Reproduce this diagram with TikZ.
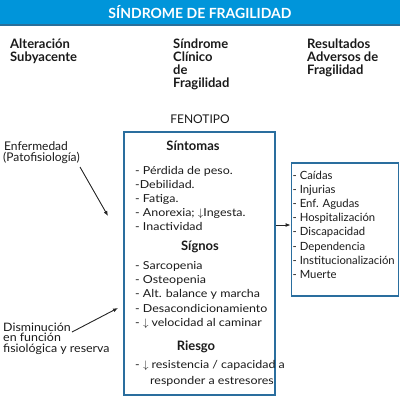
\documentclass[tikz,border=0pt]{standalone}
\usepackage{fontspec}
\setmainfont{Lato}
\newfontfamily\widef{Lato}[FakeStretch=1.13]
\newfontfamily\semiwidef{Lato}[FakeStretch=1.07]
\usetikzlibrary{arrows.meta}
\definecolor{banner}{HTML}{0095DA}
\definecolor{bannerdark}{HTML}{2A6F9A}
\definecolor{boxblue}{HTML}{2A6E9E}
\definecolor{txt}{HTML}{1A1A1A}
\begin{document}
\begin{tikzpicture}[x=1pt,y=-1pt,
  txtnode/.style={inner sep=0pt, text=txt, align=left},
  head/.style={txtnode, font=\fontsize{13}{13}\selectfont\bfseries, anchor=north west},
  body/.style={txtnode, font=\widef\fontsize{11}{14.1}\selectfont},
  sect/.style={txtnode, font=\fontsize{13}{14}\selectfont\bfseries},
  side/.style={txtnode, anchor=base west, font=\fontsize{12}{12}\selectfont},
  side2/.style={txtnode, anchor=base west, font=\semiwidef\fontsize{11.6}{11}\selectfont},
  frame/.style={draw=boxblue, line width=1.8pt, inner sep=0pt},
  arr/.style={-{Latex[length=5pt,width=4pt]}, line width=0.9pt, draw=black!85}
]
\useasboundingbox (0,0) rectangle (400,414);
% banner
\fill[banner] (0,0) rectangle (400,24);
\fill[bannerdark] (0,24) rectangle (400,26.5);
\node[inner sep=0pt, text=white, font=\fontsize{14}{16}\selectfont\bfseries] (title) at (200,12.5) {SÍNDROME DE FRAGILIDAD};
% headers
\node[head] (h1) at (10,39) {Alteración\\Subyacente};
\node[head] (h2) at (173,39) {Síndrome\\Clínico\\de\\Fragilidad};
\node[head] (h3) at (307,39) {Resultados\\Adversos de\\Fragilidad};
\node[txtnode, font=\fontsize{12}{12}\selectfont] (feno) at (200,119) {FENOTIPO};
% boxes
\node[frame, minimum width=151pt, minimum height=263pt] (pheno) at (199.5,263.5) {};
\node[frame, minimum width=107pt, minimum height=133pt] (res) at (345,229.5) {};
% main box content
\node[sect] (sint) at (193,146) {Síntomas};
\node[body, anchor=north west] (l1) at (135,166) {- Pérdida de peso.\\-Debilidad.\\- Fatiga.\\- Anorexia; $\downarrow$Ingesta.\\- Inactividad};
\node[sect] (sig) at (200,247) {Sígnos};
\node[body, anchor=north west] (l2) at (135,261.5) {- Sarcopenia\\- Osteopenia\\- Alt. balance y marcha\\- Desacondicionamiento\\- $\downarrow$ velocidad al caminar};
\node[sect] (ries) at (196,347) {Riesgo};
\node[body, anchor=north west, font=\widef\fontsize{11}{16}\selectfont] (l3) at (135,360) {- $\downarrow$ resistencia / capacidad a\\\hspace*{15pt}responder a estresores};
% result box content
\node[txtnode, anchor=north west, font=\fontsize{11.3}{14.1}\selectfont] (l4) at (292.5,171) {- Caídas\\- Injurias\\- Enf. Agudas\\- Hospitalización\\- Discapacidad\\- Dependencia\\- Institucionalización\\- Muerte};
% left texts
\node[side] (enf1) at (4,150) {Enfermedad};
\node[side] (enf2) at (3,161) {(Patofisiología)};
\node[side2] (dis1) at (3,331) {Disminución};
\node[side2] (dis2) at (3,341.5) {en función};
\node[side2] (dis3) at (3,352) {fisiológica y reserva};
% connectors
\coordinate (a1s) at (80,167);
\coordinate (a1e) at (108,216);
\coordinate (a2s) at (72,332);
\coordinate (a2e) at (118,308);
\draw[arr] (a1s) -- (a1e);
\draw[arr] (a2s) -- (a2e);
\coordinate (ay) at (0,225);
\draw[arr] (pheno.east |- ay) -- (res.west |- ay);
\end{tikzpicture}
\end{document}
